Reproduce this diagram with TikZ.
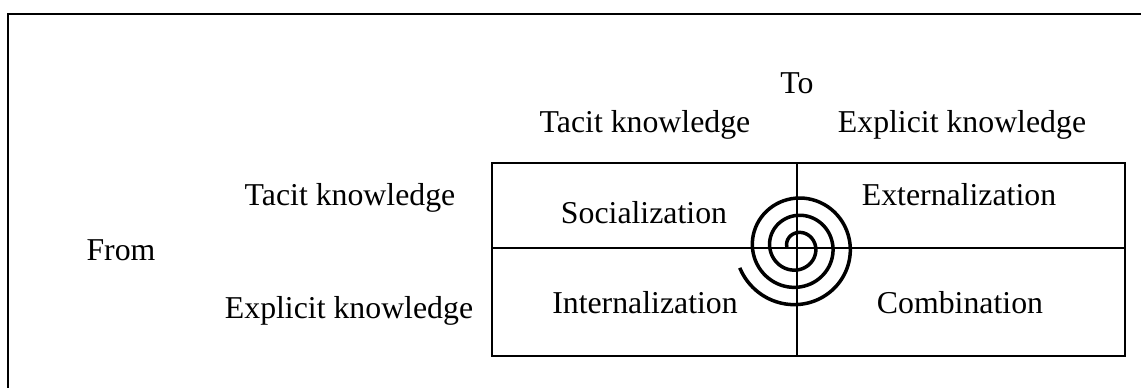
\documentclass[tikz,border=0pt]{standalone}
\usepackage{fontspec}
\setmainfont{Liberation Serif}
\begin{document}
\begin{tikzpicture}[x=1pt,y=-1pt,
  lbl/.style={anchor=base,inner sep=0pt,font=\fontsize{31.8}{36}\selectfont},
  frame/.style={line width=2.8pt},
  tableborder/.style={line width=2.3pt},
  gridline/.style={line width=1.8pt},
  spiralline/.style={line width=3.5pt,line cap=butt}]
\useasboundingbox (0,0) rectangle (1141,388);
\clip (0,0) rectangle (1141,388);
% outer frame (cropped at right and bottom)
\draw[frame] (8,14) rectangle (1160,410);
% table
\coordinate (tl) at (492,163);
\coordinate (br) at (1125,356);
\coordinate (mt) at (797,163);
\coordinate (mb) at (797,356);
\coordinate (ml) at (492,248);
\coordinate (mr) at (1125,248);
\draw[gridline] (mt) -- (mb);
\draw[gridline] (ml) -- (mr);
\draw[tableborder] (tl) rectangle (br);
% labels
\node[lbl] (to) at (797,93) {To};
\node[lbl] (tacitTo) at (645,132) {Tacit knowledge};
\node[lbl] (explicitTo) at (962,132) {Explicit knowledge};
\node[lbl] (tacitFrom) at (350,205) {Tacit knowledge};
\node[lbl] (from) at (121,260) {From};
\node[lbl] (explicitFrom) at (349,318) {Explicit knowledge};
\node[lbl] (soc) at (644,223) {Socialization};
\node[lbl] (ext) at (959,205) {Externalization};
\node[lbl] (int) at (645,313) {Internalization};
\node[lbl] (comb) at (960,313) {Combination};
% spiral
\draw[spiralline] plot[smooth, domain=0:1060, samples=220, variable=\t]
  ({797-(10+0.048056*\t)*cos(\t)}, {247-(10+0.048056*\t)*sin(\t)});
\end{tikzpicture}
\end{document}
